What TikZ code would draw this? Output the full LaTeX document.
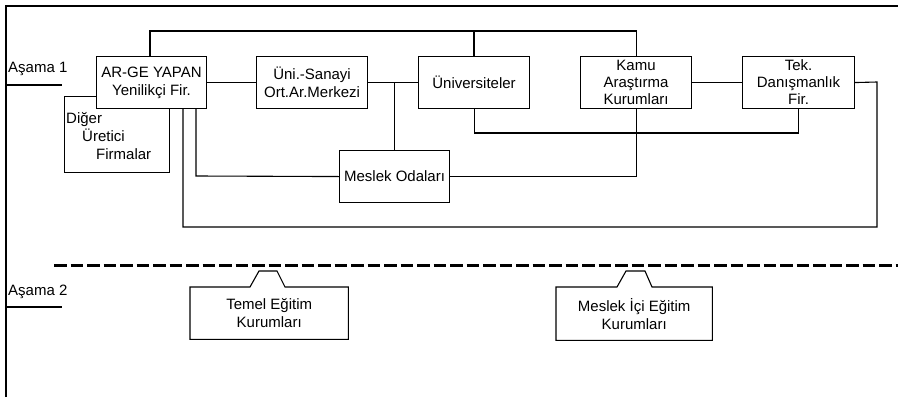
\documentclass[tikz,border=0pt]{standalone}
\usepackage{fontspec}
\setmainfont{Liberation Sans}
\begin{document}
\begin{tikzpicture}[x=1pt,y=-1pt,
  font=\fontsize{15}{18}\selectfont,
  box/.style={draw,line width=1.1pt,fill=white,inner sep=0pt,align=center,anchor=north west,minimum height=52pt},
  tabbox/.style={inner sep=0pt,align=center,anchor=north west,minimum height=52pt},
  conn/.style={line width=1.1pt},
  frame/.style={line width=2pt},
  lbl/.style={anchor=west,inner sep=0pt}]
\useasboundingbox (0,0) rectangle (898,397);
% frame
\coordinate (fbl) at (6,397);
\coordinate (ftl) at (6,6);
\coordinate (ftr) at (898,6);
\draw[frame] (fbl) -- (ftl) -- (ftr);
% stage labels
\node[lbl] (a1) at (8,69) {Aşama 1};
\coordinate (u1a) at (6,85); \coordinate (u1b) at (62,85);
\draw[conn] (u1a) -- (u1b);
\node[lbl] (a2) at (8,292) {Aşama 2};
\coordinate (u2a) at (6,307); \coordinate (u2b) at (62,307);
\draw[conn] (u2a) -- (u2b);
% boxes
\node[box,minimum width=105pt,minimum height=76pt] (diger) at (64,96) {};
\node[anchor=north west,inner sep=0pt,align=left] (digertxt) at (66,112) {Diğer\\\hspace*{16pt}Üretici\\\hspace*{30pt}Firmalar};
\node[box,minimum width=110pt] (arge) at (96,56) {AR-GE YAPAN\\Yenilikçi Fir.};
\node[box,minimum width=111pt] (unisan) at (256,56) {Üni.-Sanayi\\Ort.Ar.Merkezi};
\node[box,minimum width=111pt] (univ) at (418,56) {Üniversiteler};
\node[box,minimum width=111pt,font=\fontsize{15}{17}\selectfont] (kamu) at (580,56) {Kamu\\Araştırma\\Kurumları};
\node[box,minimum width=112pt,font=\fontsize{15}{17}\selectfont] (tek) at (742,56) {Tek.\\Danışmanlık\\Fir.};
\node[box,minimum width=110pt] (meslek) at (339,150) {Meslek Odaları};
% bus coordinates
\coordinate (t1) at (150,31);
\coordinate (t2) at (474,31);
\coordinate (t3) at (kamu.north |- t1);
\coordinate (r1) at (877,82);
\coordinate (r2) at (877,227);
\coordinate (l1) at (183,227);
\coordinate (b1) at (univ.south |- 0,133);
\coordinate (l2) at (196,176);
% connectors
\draw[conn] (t1 |- arge.north) -- (t1) -- (t3) -- (kamu.north);
\draw[conn] (t2) -- (t2 |- univ.north);
\draw[conn] (arge.east) -- (unisan.west);
\draw[conn] (unisan.east) -- (univ.west);
\draw[conn] (meslek.north) -- (meslek.north |- univ.west);
\draw[conn] (kamu.east) -- (tek.west);
\draw[conn] (tek.east) -- (r1) -- (r2) -- (l1) -- (l1 |- arge.south);
\draw[conn] (univ.south) -- (b1) -- (b1 -| tek.south) -- (tek.south);
\draw[conn] (kamu.south) -- (kamu.south |- meslek.east) -- (meslek.east);
\draw[conn] (meslek.west) -- (l2) -- (l2 |- arge.south);
% dashed separator
\coordinate (d1) at (54,265); \coordinate (d2) at (898,265);
\draw[line width=3pt,dash pattern=on 12.5pt off 4pt] (d1) -- (d2);
% stage 2 boxes
\node[tabbox,minimum width=158pt] (temel) at (190,287) {Temel Eğitim\\Kurumları};
\draw[line width=1.1pt] (temel.north west) -- ++(60,0) -- ++(9,-16) -- ++(18,0) -- ++(8,16) -- (temel.north east) -- (temel.south east) -- (temel.south west) -- cycle;
\node[tabbox,minimum width=156pt,minimum height=53pt] (mic) at (556,287) {Meslek İçi Eğitim\\Kurumları};
\draw[line width=1.1pt] (mic.north west) -- ++(61,0) -- ++(9,-16) -- ++(19,0) -- ++(7,16) -- (mic.north east) -- (mic.south east) -- (mic.south west) -- cycle;
\end{tikzpicture}
\end{document}
